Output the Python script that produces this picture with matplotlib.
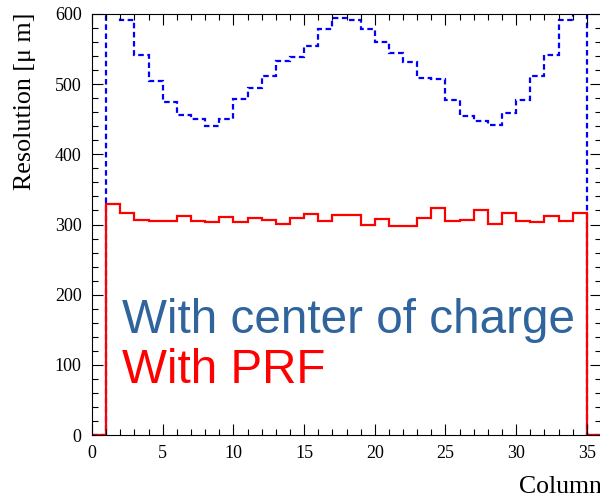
import matplotlib
matplotlib.use("Agg")
import matplotlib.pyplot as plt
import numpy as np

# bin edges: columns 0..36 (unit-width bins)
bin_edges = list(range(0, 37))

# Resolution with center of charge (bins 0..35)
res_cog = [0, 601, 591, 542, 504, 474, 456, 450, 441, 451, 479, 495, 511, 533, 539, 555, 579, 595,
           592, 579, 560, 544, 531, 509, 507, 478, 454, 447, 442, 459, 478, 512, 541, 592, 601, 0]

# Resolution with PRF (bins 0..35)
res_prf = [0, 328.6, 315.7, 306.7, 304.8, 304.8, 311.9, 304.8, 303.3, 310, 303.8, 309, 307, 301, 309,
           314.8, 304.3, 312.9, 312.9, 300, 307.6, 297.6, 297.6, 309, 322.9, 304.3, 306.2, 321, 300.5,
           316.2, 305.2, 303.8, 312.4, 305.7, 317.1, 0]

x_ticks = [0, 5, 10, 15, 20, 25, 30, 35]
y_ticks = [0, 100, 200, 300, 400, 500, 600]

plt.rcParams['font.family'] = ['Liberation Serif', 'DejaVu Serif']

fig = plt.figure(figsize=(6.0, 4.96), dpi=100)
ax = fig.add_axes([92/600, 1-435/496, (601-92)/600, (435-14)/496])

ax.stairs(res_cog, bin_edges, color='#0000ff', lw=1.6, linestyle=(0, (2.5, 1.6)), baseline=0)
ax.stairs(res_prf, bin_edges, color='#ff0000', lw=1.6, baseline=0)

ax.set_xlim(0, 36)
ax.set_ylim(0, 600)
ax.set_xticks(x_ticks)
ax.set_yticks(y_ticks)
ax.set_xticks(np.arange(0, 37, 1), minor=True)
ax.set_yticks(np.arange(0, 601, 20), minor=True)
ax.tick_params(which='both', direction='in', top=True, right=True, labelsize=13, width=0.8)
ax.tick_params(which='major', length=8)
ax.tick_params(which='minor', length=4)
ax.tick_params(axis='x', pad=7.5)
ax.tick_params(axis='y', pad=7.5)
for s in ax.spines.values():
    s.set_linewidth(0.8)

fig.text(25/600, 1-13/496, 'Resolution [μ m]', rotation=90, ha='center', va='top', fontsize=18.7)
fig.text(519/600, 1-493/496, 'Column', ha='left', va='baseline', fontsize=18.5)

ax.text(122/600, 1-333/496, 'With center of charge', transform=fig.transFigure, color='#30649c',
        fontsize=34.3, family=['Liberation Sans', 'DejaVu Sans'], ha='left', va='baseline')
ax.text(122/600, 1-383/496, 'With PRF', transform=fig.transFigure, color='#ff0000',
        fontsize=34.3, family=['Liberation Sans', 'DejaVu Sans'], ha='left', va='baseline')

fig.savefig('out.png', dpi=100)
